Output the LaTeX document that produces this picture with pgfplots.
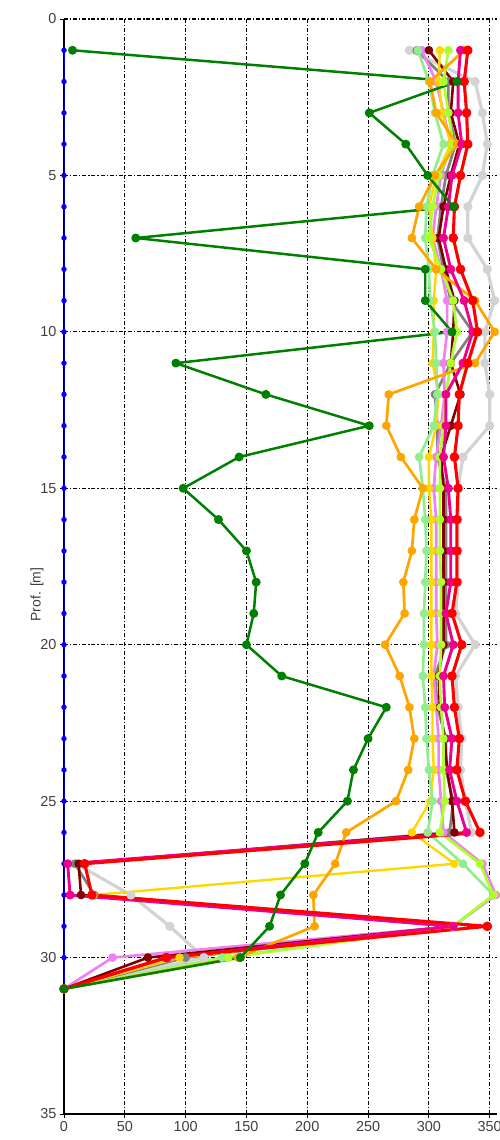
\documentclass[border=0pt]{standalone}
\usepackage{pgfplots}
\pgfplotsset{compat=1.18}
\usepackage{pgfplotstable}
\usepackage{fontspec}
\setmainfont{Liberation Sans}
\definecolor{cgreen}{RGB}{0,128,0}
\definecolor{corange}{RGB}{255,165,0}
\definecolor{cviolet}{RGB}{238,130,238}
\definecolor{cgray}{RGB}{128,128,128}
\definecolor{clgray}{RGB}{211,211,211}
\definecolor{cdred}{RGB}{128,0,0}
\definecolor{cgold}{RGB}{255,215,0}
\definecolor{clgreen}{RGB}{144,238,144}
\definecolor{cygreen}{RGB}{173,255,47}
\pgfplotstableread{
d  g   o   r   m   v   gr  lg  dr  go  lgn yg  b
1  7   329 332 326 294 290 284 300 309 291 316 0
2  323 301 329 324 306 316 338 320 308 300 312 0
3  251 306 331 324 312 316 344 318 311 305 316 0
4  281 323 332 327 318 322 348 325 318 312 320 0
5  299 305 326 319 310 314 344 318 306 303 308 0
6  320 292 321 316 306 310 332 312 300 298 303 0
7  59  286 320 312 303 307 332 308 303 297 300 0
8  297 306 326 318 310 312 348 314 306 300 310 0
9  297 338 336 329 315 318 354 321 304 301 320 0
10 319 354 340 336 315 336 346 320 304 305 323 0
11 92  338 332 328 312 318 346 318 303 306 318 0
12 166 267 325 314 313 305 350 326 308 307 314 0
13 251 265 324 314 310 307 350 318 306 304 312 0
14 144 277 321 312 306 307 328 310 300 292 309 0
15 98  295 324 316 304 314 324 312 300 295 309 0
16 127 288 323 318 306 314 324 312 302 297 309 0
17 150 286 323 318 306 314 324 312 302 298 309 0
18 158 279 323 318 306 314 324 312 302 297 310 0
19 156 280 319 314 306 314 322 312 302 296 310 0
20 150 264 327 320 307 314 338 312 302 296 310 0
21 179 276 319 312 304 305 322 308 302 295 309 0
22 265 284 321 313 306 307 324 309 303 297 310 0
23 250 288 325 319 308 314 327 313 303 298 312 0
24 238 283 323 317 308 314 326 315 304 300 312 0
25 233 273 330 323 310 320 330 319 301 303 313 0
26 209 232 342 331 312 317 335 321 286 299 309 0
27 198 223 17  3   344 9   10  12  321 328 342 0
28 178 205 23  5   355 25  55  14  24  353 353 0
29 169 206 348 320 320 320 87  320 320 320 320 0
30 145 143 84  85  40  100 115 69  95  130 135 0
31 0   0   0   0   0   0   0   0   0   0   0   0
}\data
\begin{document}
\begin{tikzpicture}
\begin{axis}[
  scale only axis,
  width=433bp, height=1095bp,
  xmin=0, xmax=356, ymin=0, ymax=35,
  y dir=reverse,
  xtick={0,50,...,350}, ytick={0,5,...,35},
  axis x line*=bottom, axis y line*=left,
  axis line style={black, line width=1.4pt, -},
  tick align=outside, major tick length=4bp,
  tick style={black, line width=0.9pt},
  grid=major,
  major grid style={black, line width=1.1pt, dash pattern=on 4pt off 2pt on 1.2pt off 2pt},
  tick label style={font=\fontsize{14.5}{16}\selectfont, text=black!75},
  /pgf/number format/assume math mode=true,
  ylabel={Prof. [m]},
  every axis y label/.style={at={(ticklabel cs:0.5)}, rotate=90, anchor=center, xshift=-28bp, font=\fontsize{14}{16}\selectfont, text=black!75},
  clip=false,
  every axis plot/.append style={mark=*, line join=round},
]
\addplot[blue, line width=1pt, mark size=2.2bp] table[x=b,y=d]{\data};
\addplot[clgray, line width=3.2pt, mark size=3bp] table[x=lg,y=d]{\data};
\addplot[cgray, line width=2.7pt, mark size=3bp] table[x=gr,y=d]{\data};
\addplot[cviolet, line width=2.7pt, mark size=3bp] table[x=v,y=d]{\data};
\addplot[cdred, line width=2.6pt, mark size=3bp] table[x=dr,y=d]{\data};
\addplot[cgold, line width=2.4pt, mark size=3bp] table[x=go,y=d]{\data};
\addplot[clgreen, line width=2.7pt, mark size=3bp] table[x=lgn,y=d]{\data};
\addplot[cygreen, line width=2.7pt, mark size=3bp] table[x=yg,y=d]{\data};
\addplot[corange, line width=2.7pt, mark size=3bp] table[x=o,y=d]{\data};
\addplot[magenta, line width=2.9pt, mark size=3bp] table[x=m,y=d]{\data};
\addplot[red, line width=3.1pt, mark size=3.2bp] table[x=r,y=d]{\data};
\addplot[cgreen, line width=2.5pt, mark size=3.2bp] table[x=g,y=d]{\data};
\end{axis}
\pgfresetboundingbox
\path ([xshift=-64bp,yshift=19bp]current axis.north west) rectangle ([xshift=2bp,yshift=-26bp]current axis.south east);
\end{tikzpicture}
\end{document}
